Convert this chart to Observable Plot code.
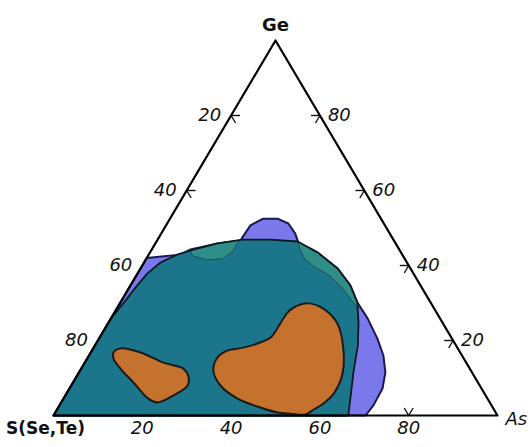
<!DOCTYPE html>
<html>
<head>
<meta charset="utf-8">
<script src="https://cdn.jsdelivr.net/npm/d3@7"></script>
<script src="https://cdn.jsdelivr.net/npm/@observablehq/plot@0.6"></script>
<style>
  body { margin: 0; background: #fff; }
  svg { display: block; }
</style>
</head>
<body>
<div id="chart"></div>
<script>
// Ternary diagram S(Se,Te) – As – Ge with glass-forming regions.
// Every composition is written as [As %, Ge %]; the rest is S (Se, Te).

const tickValues = [20, 40, 60, 80];
const vertexNames = { left: "S(Se,Te)", right: "As", top: "Ge" };

// outermost region (blue)
const blueRegion = [
  [0, 0], [0, 42], [7.1, 42.9], [8.7, 44.3], [14.0, 45.9], [18.8, 46.7],
  [18.8, 47.5], [19.0, 50.7], [21.0, 52.5], [24.2, 52.5], [27.3, 51.2],
  [30.2, 48.5], [32.1, 46.1], [37.7, 43.5], [44.4, 39.2], [49.5, 34.7],
  [53.4, 30.1], [57.8, 25.9], [62.7, 20.5], [66.3, 16.0], [69.0, 11.5],
  [70.5, 7.2], [70.7, 2.7], [70.3, 0]
];

// light teal region
const tealRegion = [
  [0, 0], [0, 25.9], [0.9, 30.7], [1.4, 34.1], [2.2, 37.9], [3.7, 40.8],
  [6.4, 42.9], [8.9, 44.0], [14.0, 45.9], [19.1, 46.9], [25.4, 46.9],
  [31.8, 46.4], [37.7, 43.5], [44.4, 39.2], [49.5, 34.7], [53.4, 30.1],
  [56.3, 24.8], [59.2, 18.7], [61.8, 11.5], [64.6, 4.5], [66.4, 0]
];

// dark teal region
const darkRegion = [
  [0, 0], [0, 25.9], [0.9, 30.7], [1.4, 34.1], [2.2, 37.9], [3.7, 40.8],
  [6.4, 42.9], [8.9, 44.0], [10.0, 42.6], [13.8, 41.5], [17.2, 41.8],
  [18.5, 43.8], [18.4, 46.1], [19.1, 46.9], [25.4, 46.9], [31.8, 46.4],
  [33.6, 44.0], [36.0, 41.4], [39.3, 39.5], [43.3, 37.4], [47.8, 34.2],
  [51.8, 30.7], [53.8, 29.0], [56.3, 24.8], [59.2, 18.7], [61.8, 11.5],
  [64.6, 4.5], [66.4, 0]
];

// brown regions
const brownSmall = [
  [5.1, 16.8], [6.2, 17.9], [11.2, 16.8], [17.7, 14.1], [23.0, 12.5],
  [25.2, 10.4], [26.2, 8.0], [24.3, 5.3], [21.7, 3.5], [19.1, 4.5],
  [13.6, 8.8], [8.8, 12.5], [5.9, 15.2]
];
const brownLarge = [
  [30.0, 12.0], [29.2, 15.5], [30.5, 17.3], [33.7, 18.1], [36.3, 19.2],
  [38.5, 20.8], [38.8, 24.5], [39.0, 27.5], [39.7, 28.8], [42.3, 29.9],
  [46.5, 28.5], [51.7, 24.5], [56.2, 18.1], [59.5, 11.2], [60.2, 5.9],
  [59.2, 3.2], [57.8, 1.6], [56.6, 0.3], [53.1, 0.5], [50.1, 0.8],
  [44.7, 2.4], [39.2, 4.5], [33.6, 8.0]
];

// ternary [As, Ge] -> plane coordinates
const toXY = ([a, g]) => ({ x: a + g / 2, y: g });
const pts = (region) => region.map(toXY);

const frame = pts([[0, 0], [100, 0], [0, 100]]);

// little chevrons on each side, pointing along the composition lines
const L = 2;
const tickArms = [];
for (const v of tickValues) {
  // left side: S = v
  const gl = 100 - v;
  tickArms.push({ p: [0, gl], q: [L, gl] }, { p: [0, gl], q: [L, gl - L] });
  // right side: Ge = v
  const ar = 100 - v;
  tickArms.push({ p: [ar, v], q: [ar - L, v] }, { p: [ar, v], q: [ar, v - L] });
  // base: As = v
  tickArms.push({ p: [v, 0], q: [v - L, L] }, { p: [v, 0], q: [v, L] });
}
const armData = tickArms.map(({ p, q }) => {
  const a = toXY(p), b = toXY(q);
  return { x1: a.x, y1: a.y, x2: b.x, y2: b.y };
});

const leftLabels = tickValues.map(v => ({ ...toXY([0, 100 - v]), label: String(v) }));
const rightLabels = tickValues.map(v => ({ ...toXY([100 - v, v]), label: String(v) }));
const baseLabels = tickValues.map(v => ({ ...toXY([v, 0]), label: String(v) }));

const numFont = { fontFamily: "DejaVu Sans", fontSize: 18, fontStyle: "italic", fill: "#111" };

const chart = Plot.plot({
  width: 531,
  height: 447,
  margin: 0,
  x: { domain: [0, 100], range: [53, 497], axis: null },
  y: { domain: [0, 100], range: [415, 40], axis: null },
  marks: [
    Plot.link(armData, { x1: "x1", y1: "y1", x2: "x2", y2: "y2", stroke: "#111", strokeWidth: 1.4 }),

    Plot.line(pts(blueRegion), { x: "x", y: "y", curve: "linear-closed", fill: "#7b78ec", stroke: "#1a1850", strokeWidth: 2 }),
    Plot.line(pts(tealRegion), { x: "x", y: "y", curve: "linear-closed", fill: "#2f8f88", stroke: "none" }),
    Plot.line(pts(darkRegion), { x: "x", y: "y", curve: "linear-closed", fill: "#1b768c", stroke: "#1c4f5a", strokeWidth: 1 }),
    Plot.line(pts(tealRegion), { x: "x", y: "y", curve: "linear-closed", fill: "none", stroke: "#0d1a22", strokeWidth: 1.8 }),

    Plot.line(pts(brownSmall), { x: "x", y: "y", curve: "catmull-rom-closed", fill: "#c5722f", stroke: "#1a1a1a", strokeWidth: 2 }),
    Plot.line(pts(brownLarge), { x: "x", y: "y", curve: "catmull-rom-closed", fill: "#c5722f", stroke: "#1a1a1a", strokeWidth: 2 }),

    Plot.line(frame, { x: "x", y: "y", curve: "linear-closed", stroke: "#000", strokeWidth: 2.2, fill: "none" }),

    Plot.text(leftLabels, { x: "x", y: "y", text: "label", textAnchor: "end", dx: -10, ...numFont }),
    Plot.text(rightLabels, { x: "x", y: "y", text: "label", textAnchor: "start", dx: 8, ...numFont }),
    Plot.text(baseLabels, { x: "x", y: "y", text: "label", dy: 13, ...numFont }),

    Plot.text([toXY([0, 0])], { x: "x", y: "y", text: () => vertexNames.left, dx: -8, dy: 13, fontFamily: "DejaVu Sans", fontSize: 17, fontWeight: "bold", fill: "#111" }),
    Plot.text([toXY([100, 0])], { x: "x", y: "y", text: () => vertexNames.right, textAnchor: "start", dx: 8, dy: 4, fontFamily: "DejaVu Sans", fontSize: 18, fontStyle: "italic", fill: "#111" }),
    Plot.text([toXY([0, 100])], { x: "x", y: "y", text: () => vertexNames.top, dy: -15, fontFamily: "DejaVu Sans", fontSize: 18, fontWeight: "bold", fill: "#111" })
  ]
});

document.getElementById("chart").appendChild(chart);
</script>
</body>
</html>
